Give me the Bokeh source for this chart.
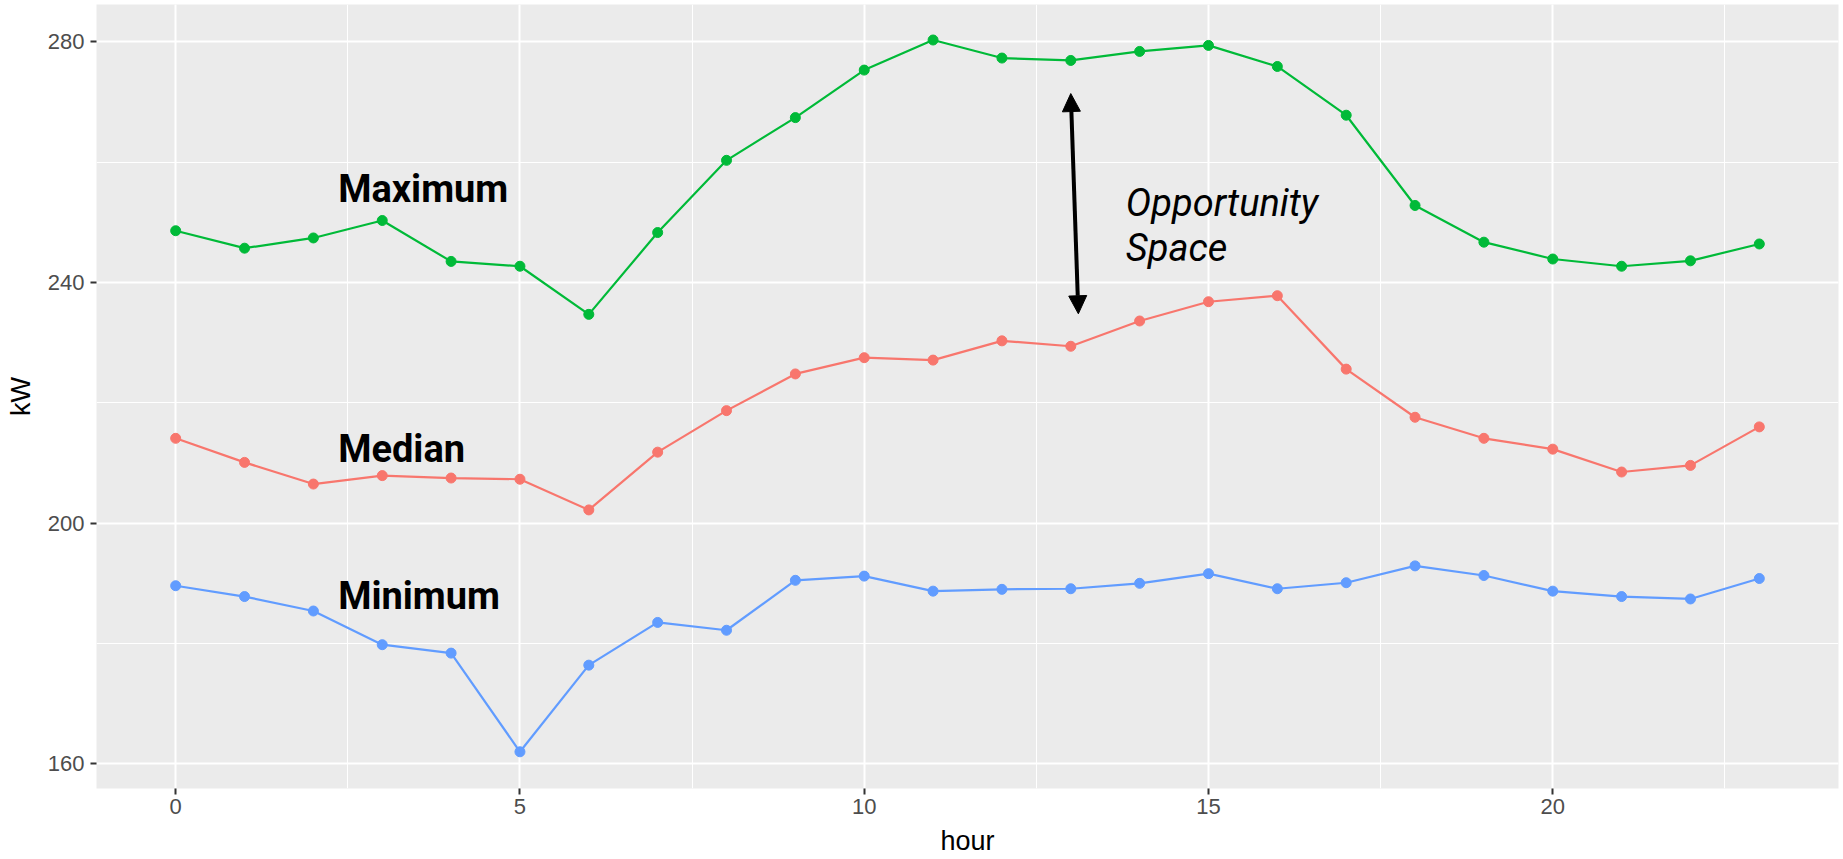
from bokeh.plotting import figure
from bokeh.models import ColumnDataSource, Range1d, SingleIntervalTicker, Arrow, NormalHead
from bokeh.core.properties import value
from bokeh.embed import file_html
from bokeh.resources import INLINE

# ---- data ----
hours = list(range(24))
maximum_kw = [248.6, 245.7, 247.4, 250.3, 243.5, 242.7, 234.7, 248.3, 260.3, 267.4,
              275.3, 280.3, 277.3, 276.9, 278.4, 279.4, 275.9, 267.8, 252.8, 246.7,
              243.9, 242.7, 243.6, 246.4]
median_kw = [214.1, 210.1, 206.5, 207.9, 207.5, 207.3, 202.2, 211.8, 218.7, 224.8,
             227.5, 227.1, 230.3, 229.4, 233.6, 236.8, 237.8, 225.6, 217.6, 214.1,
             212.3, 208.5, 209.6, 216.0]
minimum_kw = [189.6, 187.8, 185.4, 179.8, 178.4, 162.0, 176.4, 183.5, 182.2, 190.5,
              191.2, 188.7, 189.0, 189.1, 190.0, 191.6, 189.1, 190.1, 192.9, 191.3,
              188.7, 187.8, 187.4, 190.8]
series_names = ["Maximum", "Median", "Minimum"]
series_colors = ["#00BA38", "#F8766D", "#619CFF"]

label_text = ["Maximum", "Median", "Minimum"]
label_x = [2.36, 2.36, 2.36]
label_y = [255.6, 212.3, 187.85]

note_text = ["Opportunity", "Space"]
note_x = [13.8, 13.8]
note_y = [253.2, 245.8]

arrow_from = (13.11, 234.8)
arrow_to = (13.0, 271.4)

# ---- figure ----
p = figure(width=1843, height=859, output_backend="svg", toolbar_location=None,
           x_range=Range1d(-1.15, 24.15), y_range=Range1d(155.9, 286.2),
           min_border_left=96, min_border_right=5, min_border_top=4, min_border_bottom=71)
p.background_fill_color = "#EBEBEB"
p.border_fill_color = "white"
p.outline_line_color = None

p.xaxis.ticker = SingleIntervalTicker(interval=5, num_minor_ticks=2)
p.yaxis.ticker = SingleIntervalTicker(interval=40, num_minor_ticks=2)

for ax in (p.xaxis, p.yaxis):
    ax.axis_line_color = None
    ax.major_tick_line_color = "#333333"
    ax.major_tick_line_width = 2
    ax.major_tick_in = 0
    ax.major_tick_out = 6
    ax.minor_tick_line_color = None
    ax.major_label_text_font = "Liberation Sans"
    ax.major_label_text_font_size = "22px"
    ax.major_label_text_color = "#4D4D4D"
    ax.axis_label_text_font = "Liberation Sans"
    ax.axis_label_text_font_size = "27px"
    ax.axis_label_text_font_style = "normal"
    ax.axis_label_text_color = "black"

p.xaxis.axis_label = "hour"
p.yaxis.axis_label = "kW"
p.xaxis.major_label_standoff = 4
p.xaxis.axis_label_standoff = 9
p.yaxis.major_label_standoff = 6
p.yaxis.axis_label_standoff = 9

p.grid.grid_line_color = "white"
p.grid.grid_line_width = 2
p.grid.minor_grid_line_color = "white"
p.grid.minor_grid_line_width = 1

for name, vals, col in zip(series_names, [maximum_kw, median_kw, minimum_kw], series_colors):
    src = ColumnDataSource(dict(hour=hours, kw=vals))
    p.line("hour", "kw", source=src, line_color=col, line_width=2.2)
    p.scatter("hour", "kw", source=src, size=10, fill_color=col, line_color=col)

lab_src = ColumnDataSource(dict(x=label_x, y=label_y, text=label_text))
p.text("x", "y", text="text", source=lab_src, text_font=value("Roboto"),
       text_font_style="bold", text_font_size="38px", text_color="black",
       text_align="left", text_baseline="alphabetic")

note_src = ColumnDataSource(dict(x=note_x, y=note_y, text=note_text))
p.text("x", "y", text="text", source=note_src, text_font=value("Roboto"),
       text_font_style="italic", text_font_size="38px", text_color="black",
       text_align="left", text_baseline="alphabetic")

p.add_layout(Arrow(start=NormalHead(size=18, fill_color="black", line_color="black"),
                   end=NormalHead(size=18, fill_color="black", line_color="black"),
                   x_start=arrow_from[0], y_start=arrow_from[1],
                   x_end=arrow_to[0], y_end=arrow_to[1],
                   line_color="black", line_width=4))

open("out.html", "w").write(file_html(p, INLINE))
